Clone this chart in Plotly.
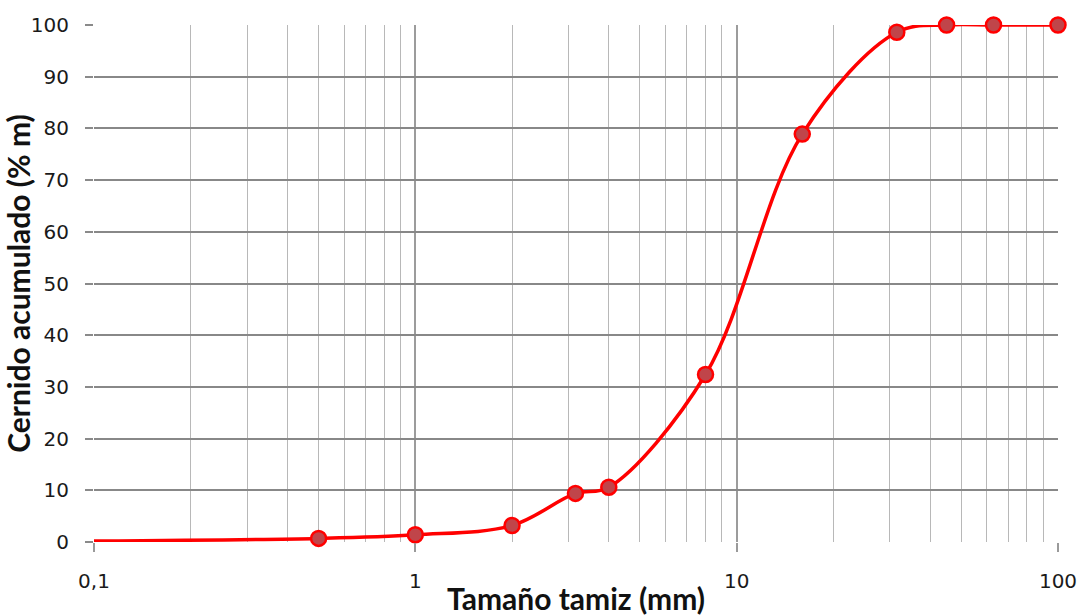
import plotly.graph_objects as go

# Sieve sizes (mm) and cumulative passing (% by mass)
sieve_mm = [0.063, 0.5, 1, 2, 3.15, 4, 8, 16, 31.5, 45, 63, 100]
passing_pct = [0.1, 0.7, 1.4, 3.2, 9.4, 10.6, 32.4, 78.9, 98.6, 100, 100, 100]

x_ticks = [0.1, 1, 10, 100]
x_tick_text = ["0,1", "1", "10", "100"]
y_ticks = list(range(0, 101, 10))

minor_vals = [m * d for d in (0.1, 1, 10) for m in range(2, 10)]

fig = go.Figure()
fig.add_trace(go.Scatter(
    x=sieve_mm,
    y=passing_pct,
    mode="lines+markers",
    line=dict(color="#ff0000", width=3.5, shape="spline", smoothing=1.0),
    marker=dict(size=15, color="#c0454a", line=dict(color="#ff0000", width=2.5)),
    cliponaxis=False,
    showlegend=False,
))

fig.update_layout(
    width=1082,
    height=616,
    margin=dict(l=94, r=24, t=25, b=74, autoexpand=False),
    paper_bgcolor="white",
    plot_bgcolor="white",
    separators=",.",
    font=dict(family="DejaVu Sans", size=20, color="#1a1a1a"),
    xaxis=dict(
        type="log",
        range=[-1, 2],
        automargin=False,
        tickvals=x_ticks,
        ticktext=x_tick_text,
        ticks="outside",
        ticklen=9,
        tickwidth=1.5,
        tickcolor="#9a9a9a",
        ticklabelstandoff=12,
        showgrid=True,
        gridcolor="#9c9c9c",
        gridwidth=1.8,
        minor=dict(tickvals=minor_vals, showgrid=True, gridcolor="#b8b8b8",
                   gridwidth=1.3, ticks=""),
        showline=False,
        zeroline=False,
        title=dict(text="<b>Tamaño tamiz (mm)</b>",
                   font=dict(family="Lato", size=30, color="#111"),
                   standoff=0),
    ),
    yaxis=dict(
        range=[0, 100],
        automargin=False,
        tickvals=y_ticks,
        ticks="outside",
        ticklen=8,
        tickwidth=1.5,
        tickcolor="#8a8a8a",
        ticklabelstandoff=12,
        showgrid=True,
        gridcolor="#888888",
        gridwidth=1.5,
        showline=False,
        zeroline=False,
        title=dict(text="<b>Cernido acumulado (% m)</b>",
                   font=dict(family="Lato", size=30, color="#111"),
                   standoff=6),
    ),
)

fig.write_html("out.html")
